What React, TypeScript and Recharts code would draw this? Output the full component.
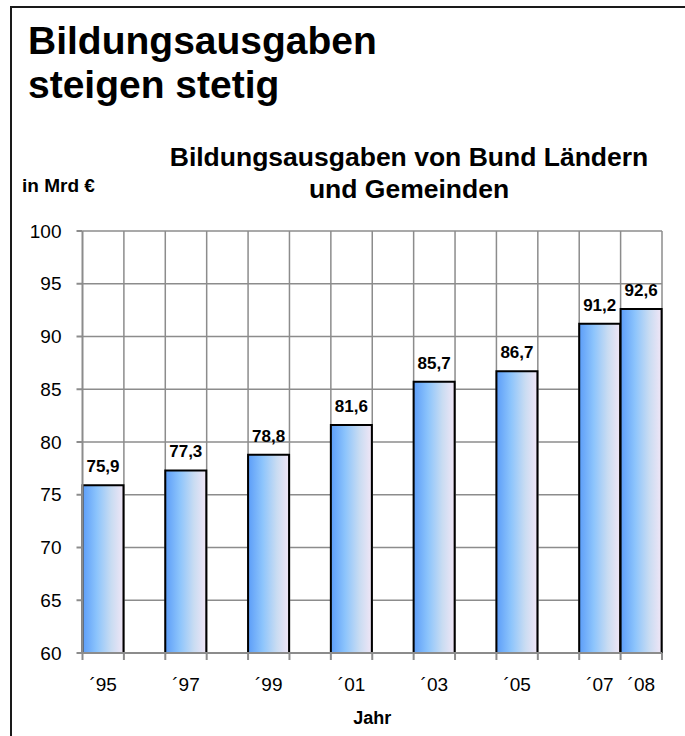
import { BarChart, Bar, XAxis, YAxis, CartesianGrid, LabelList } from "recharts"

// Jahre 1995–2008, nur ungerade Jahre + 2008 haben Werte
const years = [1995, 1996, 1997, 1998, 1999, 2000, 2001, 2002, 2003, 2004, 2005, 2006, 2007, 2008]
const spending = [75.9, null, 77.3, null, 78.8, null, 81.6, null, 85.7, null, 86.7, null, 91.2, 92.6]
const yTicks = [60, 65, 70, 75, 80, 85, 90, 95, 100]

const data = years.map((year, i) => ({ year, value: spending[i] }))

const W = 685
const H = 736
const M = { top: 231, right: 23, bottom: 3, left: 0 }
const Y_W = 82.5
const X_H = 80
const PLOT_W = W - M.left - M.right - Y_W
const CELL = PLOT_W / years.length
const TICK = 7
const TICK_GAP = 18
const FONT = "'Liberation Sans', Arial, Helvetica, sans-serif"

const fmt = (v: unknown) => (v == null ? "" : (v as number).toFixed(1).replace(".", ","))

function YearTick(props: any) {
  const { x, y, payload, index } = props
  const axisY = y - TICK - TICK_GAP
  const v = spending[index]
  const label = v == null ? "" : `´${String(payload.value).slice(2)}`
  const last = index === years.length - 1
  return (
    <g>
      <line x1={x - CELL / 2} x2={x - CELL / 2} y1={axisY} y2={axisY + TICK} stroke="#8c8c8c" strokeWidth={2} />
      {last && <line x1={x + CELL / 2} x2={x + CELL / 2} y1={axisY} y2={axisY + TICK} stroke="#8c8c8c" strokeWidth={2} />}
      <text x={x} y={y} dy="0.71em" textAnchor="middle" fontSize={19} fill="#000" fontFamily={FONT}>
        {label}
      </text>
    </g>
  )
}

export default function App() {
  return (
    <div style={{ position: "fixed", left: 0, top: 0, width: W, height: H, overflow: "hidden", background: "#fff", fontFamily: FONT }}>
      <div style={{ position: "absolute", left: 10, top: 6, width: 700, height: 760, border: "2px solid #1a1a1a", boxSizing: "border-box" }} />
      <div style={{ position: "absolute", left: 0, top: 0 }}>
        <BarChart width={W} height={H} data={data} margin={M} barCategoryGap={0} barGap={0}>
          <defs>
            <linearGradient id="barGrad" x1="0" y1="0" x2="1" y2="0">
              <stop offset="0%" stopColor="#5c9df8" />
              <stop offset="35%" stopColor="#8cc4fc" />
              <stop offset="70%" stopColor="#c9dcf2" />
              <stop offset="100%" stopColor="#f1e6f6" />
            </linearGradient>
          </defs>
          <CartesianGrid
            stroke="#8c8c8c"
            strokeWidth={1.5}
            verticalCoordinatesGenerator={({ offset }: any) =>
              years.map((_, i) => offset.left + ((i + 1) * offset.width) / years.length)
            }
          />
          <XAxis
            dataKey="year"
            height={X_H}
            interval={0}
            tickLine={false}
            tickSize={TICK}
            tickMargin={TICK_GAP}
            stroke="#8c8c8c"
            strokeWidth={2}
            tick={<YearTick />}
            label={{ value: "Jahr", position: "insideBottom", offset: 9, fontSize: 18, fontWeight: "bold", fill: "#000", fontFamily: FONT }}
          />
          <YAxis
            width={Y_W}
            domain={[60, 100]}
            ticks={yTicks}
            interval={0}
            tickSize={6}
            tickMargin={15}
            stroke="#8c8c8c"
            strokeWidth={2}
            tick={{ fontSize: 19, fill: "#000", fontFamily: FONT }}
          />
          <Bar dataKey="value" fill="url(#barGrad)" stroke="#000" strokeWidth={2} isAnimationActive={false}>
            <LabelList dataKey="value" position="top" offset={13} formatter={fmt} fontSize={17} fontWeight="bold" fill="#000" fontFamily={FONT} />
          </Bar>
        </BarChart>
      </div>
      <div style={{ position: "absolute", left: 28, top: 19, fontSize: 39, lineHeight: "44px", fontWeight: "bold", color: "#000", whiteSpace: "nowrap" }}>
        Bildungsausgaben
        <br />
        steigen stetig
      </div>
      <div style={{ position: "absolute", left: 22, top: 176, fontSize: 19, lineHeight: "20px", fontWeight: "bold", color: "#000", whiteSpace: "nowrap" }}>
        in Mrd €
      </div>
      <div
        style={{
          position: "absolute", left: 109, width: 600, top: 141, fontSize: 26.5, lineHeight: "32px", fontWeight: "bold", color: "#000",
          textAlign: "center", whiteSpace: "nowrap",
        }}
      >
        Bildungsausgaben von Bund Ländern
        <br />
        und Gemeinden
      </div>
    </div>
  )
}
